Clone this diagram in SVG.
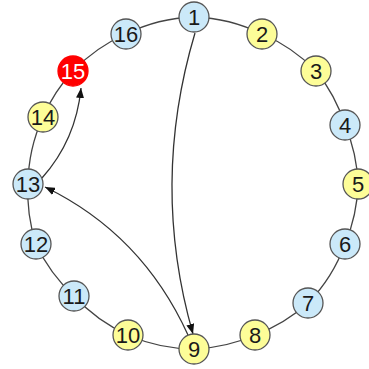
<svg xmlns="http://www.w3.org/2000/svg" width="369" height="369" viewBox="0 0 369 369">
  <style>
    .ring { fill: none; stroke: #444; stroke-width: 1.3; }
    .arc { fill: none; stroke: #333; stroke-width: 1.3; }
    .node circle { stroke: #555; stroke-width: 1.3; }
    .blue circle { fill: #cbe9f9; }
    .yellow circle { fill: #fdfd98; }
    .red circle { fill: #ff0000; stroke: #ff0000; }
    .node text { font-family: "Liberation Sans", Arial, sans-serif; font-size: 22px; fill: #1a1a1a; text-anchor: middle; dominant-baseline: central; }
    .red text { fill: #ffffff; }
  </style>
  <defs>
    <marker id="arrow" markerWidth="10" markerHeight="8" refX="10" refY="4" orient="auto" markerUnits="userSpaceOnUse">
      <path d="M0,0 L10,4 L0,8 z" fill="#111"/>
    </marker>
  </defs>
  <rect width="369" height="369" fill="#ffffff"/>
  <g id="connectors">
    <!-- ring segments between neighbouring nodes -->
    <path class="ring" d="M194,17 A165,165 0 0 1 262,34"/>
    <path class="ring" d="M262,34 A165,165 0 0 1 316,71"/>
    <path class="ring" d="M316,71 A165,165 0 0 1 345,125"/>
    <path class="ring" d="M345,125 A165,165 0 0 1 358,184"/>
    <path class="ring" d="M358,184 A165,165 0 0 1 345,244"/>
    <path class="ring" d="M345,244 A165,165 0 0 1 308,303"/>
    <path class="ring" d="M308,303 A165,165 0 0 1 255,335"/>
    <path class="ring" d="M255,335 A165,165 0 0 1 194,349"/>
    <path class="ring" d="M194,349 A165,165 0 0 1 128,335"/>
    <path class="ring" d="M128,335 A165,165 0 0 1 74,296"/>
    <path class="ring" d="M74,296 A165,165 0 0 1 36,244"/>
    <path class="ring" d="M36,244 A165,165 0 0 1 28,184"/>
    <path class="ring" d="M28,184 A165,165 0 0 1 43,117"/>
    <path class="ring" d="M43,117 A165,165 0 0 1 73,71"/>
    <path class="ring" d="M73,71 A165,165 0 0 1 126,34"/>
    <path class="ring" d="M126,34 A165,165 0 0 1 194,17"/>
    <!-- directed chords -->
    <path class="arc" d="M195,33 Q150,184 193,334" marker-end="url(#arrow)"/>
    <path class="arc" d="M188,335 Q142,234 45,187" marker-end="url(#arrow)"/>
    <path class="arc" d="M42,178 Q76,140 81,88" marker-end="url(#arrow)"/>
  </g>
  <g id="n1" class="node blue"><circle cx="194" cy="17" r="15"/><text x="194" y="17">1</text></g>
  <g id="n2" class="node yellow"><circle cx="262" cy="34" r="15"/><text x="262" y="34">2</text></g>
  <g id="n3" class="node yellow"><circle cx="316" cy="71" r="15"/><text x="316" y="71">3</text></g>
  <g id="n4" class="node blue"><circle cx="345" cy="125" r="15"/><text x="345" y="125">4</text></g>
  <g id="n5" class="node yellow"><circle cx="358" cy="184" r="15"/><text x="358" y="184">5</text></g>
  <g id="n6" class="node blue"><circle cx="345" cy="244" r="15"/><text x="345" y="244">6</text></g>
  <g id="n7" class="node blue"><circle cx="308" cy="303" r="15"/><text x="308" y="303">7</text></g>
  <g id="n8" class="node yellow"><circle cx="255" cy="335" r="15"/><text x="255" y="335">8</text></g>
  <g id="n9" class="node yellow"><circle cx="194" cy="349" r="15"/><text x="194" y="349">9</text></g>
  <g id="n10" class="node yellow"><circle cx="128" cy="335" r="15"/><text x="128" y="335">10</text></g>
  <g id="n11" class="node blue"><circle cx="74" cy="296" r="15"/><text x="74" y="296">11</text></g>
  <g id="n12" class="node blue"><circle cx="36" cy="244" r="15"/><text x="36" y="244">12</text></g>
  <g id="n13" class="node blue"><circle cx="28" cy="184" r="15"/><text x="28" y="184">13</text></g>
  <g id="n14" class="node yellow"><circle cx="43" cy="117" r="15"/><text x="43" y="117">14</text></g>
  <g id="n15" class="node red"><circle cx="73" cy="71" r="15"/><text x="73" y="71">15</text></g>
  <g id="n16" class="node blue"><circle cx="126" cy="34" r="15"/><text x="126" y="34">16</text></g>
</svg>
